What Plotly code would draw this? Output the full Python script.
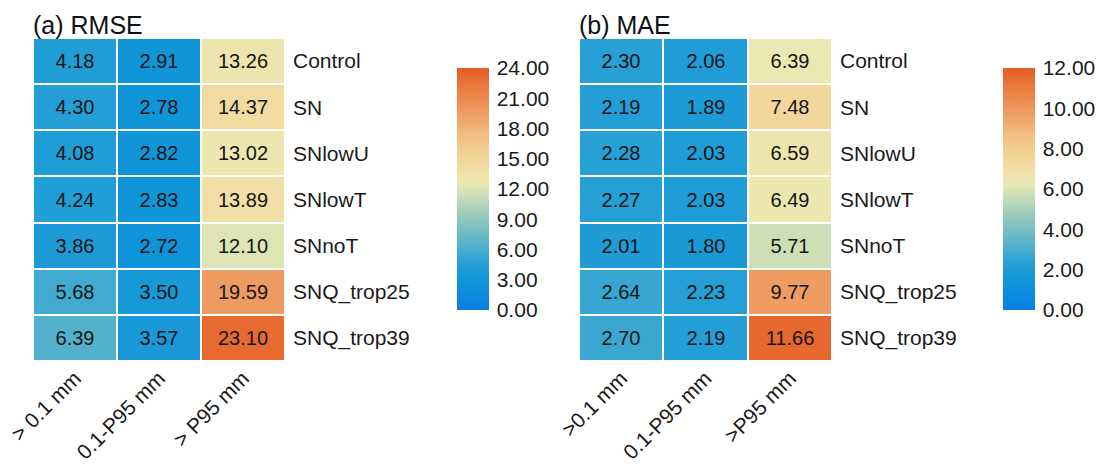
import plotly.graph_objects as go

experiments = ["Control", "SN", "SNlowU", "SNlowT", "SNnoT", "SNQ_trop25", "SNQ_trop39"]
rmse_cols = ["> 0.1 mm", "0.1-P95 mm", "> P95 mm"]
mae_cols = [">0.1 mm", "0.1-P95 mm", ">P95 mm"]

rmse_gt01 = [4.18, 4.30, 4.08, 4.24, 3.86, 5.68, 6.39]
rmse_mid = [2.91, 2.78, 2.82, 2.83, 2.72, 3.50, 3.57]
rmse_p95 = [13.26, 14.37, 13.02, 13.89, 12.10, 19.59, 23.10]

mae_gt01 = [2.30, 2.19, 2.28, 2.27, 2.01, 2.64, 2.70]
mae_mid = [2.06, 1.89, 2.03, 2.03, 1.80, 2.23, 2.19]
mae_p95 = [6.39, 7.48, 6.59, 6.49, 5.71, 9.77, 11.66]

# blue -> teal -> pale yellow -> orange
cscale = [
    [0.00, "#0a7ee6"],
    [0.12, "#0f95d8"],
    [0.20, "#2aa1d5"],
    [0.27, "#56b2cb"],
    [0.38, "#92c7bd"],
    [0.47, "#c9deb8"],
    [0.53, "#ede8b2"],
    [0.62, "#f2d79c"],
    [0.72, "#f2bf82"],
    [0.82, "#ee9a60"],
    [0.92, "#ea7a3e"],
    [1.00, "#e55e24"],
]

W, H = 1109, 468


def rows(*cols):
    return [list(r) for r in zip(*cols)]


cell_font = dict(size=20, color="#151515", family="Liberation Sans, Arial, sans-serif")

fig = go.Figure()
fig.add_trace(go.Heatmap(
    z=rows(rmse_gt01, rmse_mid, rmse_p95), x=rmse_cols, y=experiments,
    coloraxis="coloraxis", xgap=2, ygap=2,
    texttemplate="%{z:.2f}", textfont=cell_font,
    xaxis="x", yaxis="y", hoverinfo="skip"))
fig.add_trace(go.Heatmap(
    z=rows(mae_gt01, mae_mid, mae_p95), x=mae_cols, y=experiments,
    coloraxis="coloraxis2", xgap=2, ygap=2,
    texttemplate="%{z:.2f}", textfont=cell_font,
    xaxis="x2", yaxis="y2", hoverinfo="skip"))

ydom = [1 - 361 / H, 1 - 38 / H]
cb_common = dict(
    thickness=32, thicknessmode="pixels", len=242 / H, lenmode="fraction",
    y=1 - 189 / H, yanchor="middle", xanchor="left", outlinewidth=0,
    xpad=0, ypad=0,
    ticks="outside", ticklen=4, tickcolor="rgba(0,0,0,0)",
    tickformat=".2f", tickfont=dict(size=21, color="#1a1a1a"),
    ticklabelposition="outside",
)

font_family = "Liberation Sans, Arial, sans-serif"
axis_font = dict(size=21, color="#1a1a1a")

common_x = dict(tickangle=-45, showgrid=False, zeroline=False, showline=False,
                ticks="", tickfont=axis_font, automargin=False, fixedrange=True)
common_y = dict(side="right", autorange="reversed", showgrid=False,
                zeroline=False, showline=False, ticks="", tickfont=axis_font,
                ticklabelstandoff=7, automargin=False, fixedrange=True)

fig.update_layout(
    width=W, height=H, margin=dict(l=0, r=0, t=0, b=0, autoexpand=False),
    paper_bgcolor="white", plot_bgcolor="white",
    font=dict(family=font_family),
    coloraxis=dict(colorscale=cscale, cmin=0, cmax=24,
                   colorbar=dict(x=457 / W, dtick=3, tick0=0, **cb_common)),
    coloraxis2=dict(colorscale=cscale, cmin=0, cmax=12,
                    colorbar=dict(x=1003 / W, dtick=2, tick0=0, **cb_common)),
    xaxis=dict(domain=[33 / W, 285 / W], anchor="y", **common_x),
    yaxis=dict(domain=ydom, anchor="x", **common_y),
    xaxis2=dict(domain=[579 / W, 832 / W], anchor="y2", **common_x),
    yaxis2=dict(domain=ydom, anchor="x2", **common_y),
    annotations=[
        dict(text="(a) RMSE", x=31 / W, y=1 - 9 / H, xref="paper", yref="paper",
             xanchor="left", yanchor="top", showarrow=False,
             font=dict(size=25, color="#111")),
        dict(text="(b) MAE", x=577 / W, y=1 - 9 / H, xref="paper", yref="paper",
             xanchor="left", yanchor="top", showarrow=False,
             font=dict(size=25, color="#111")),
    ],
)

fig.write_html("out.html")
